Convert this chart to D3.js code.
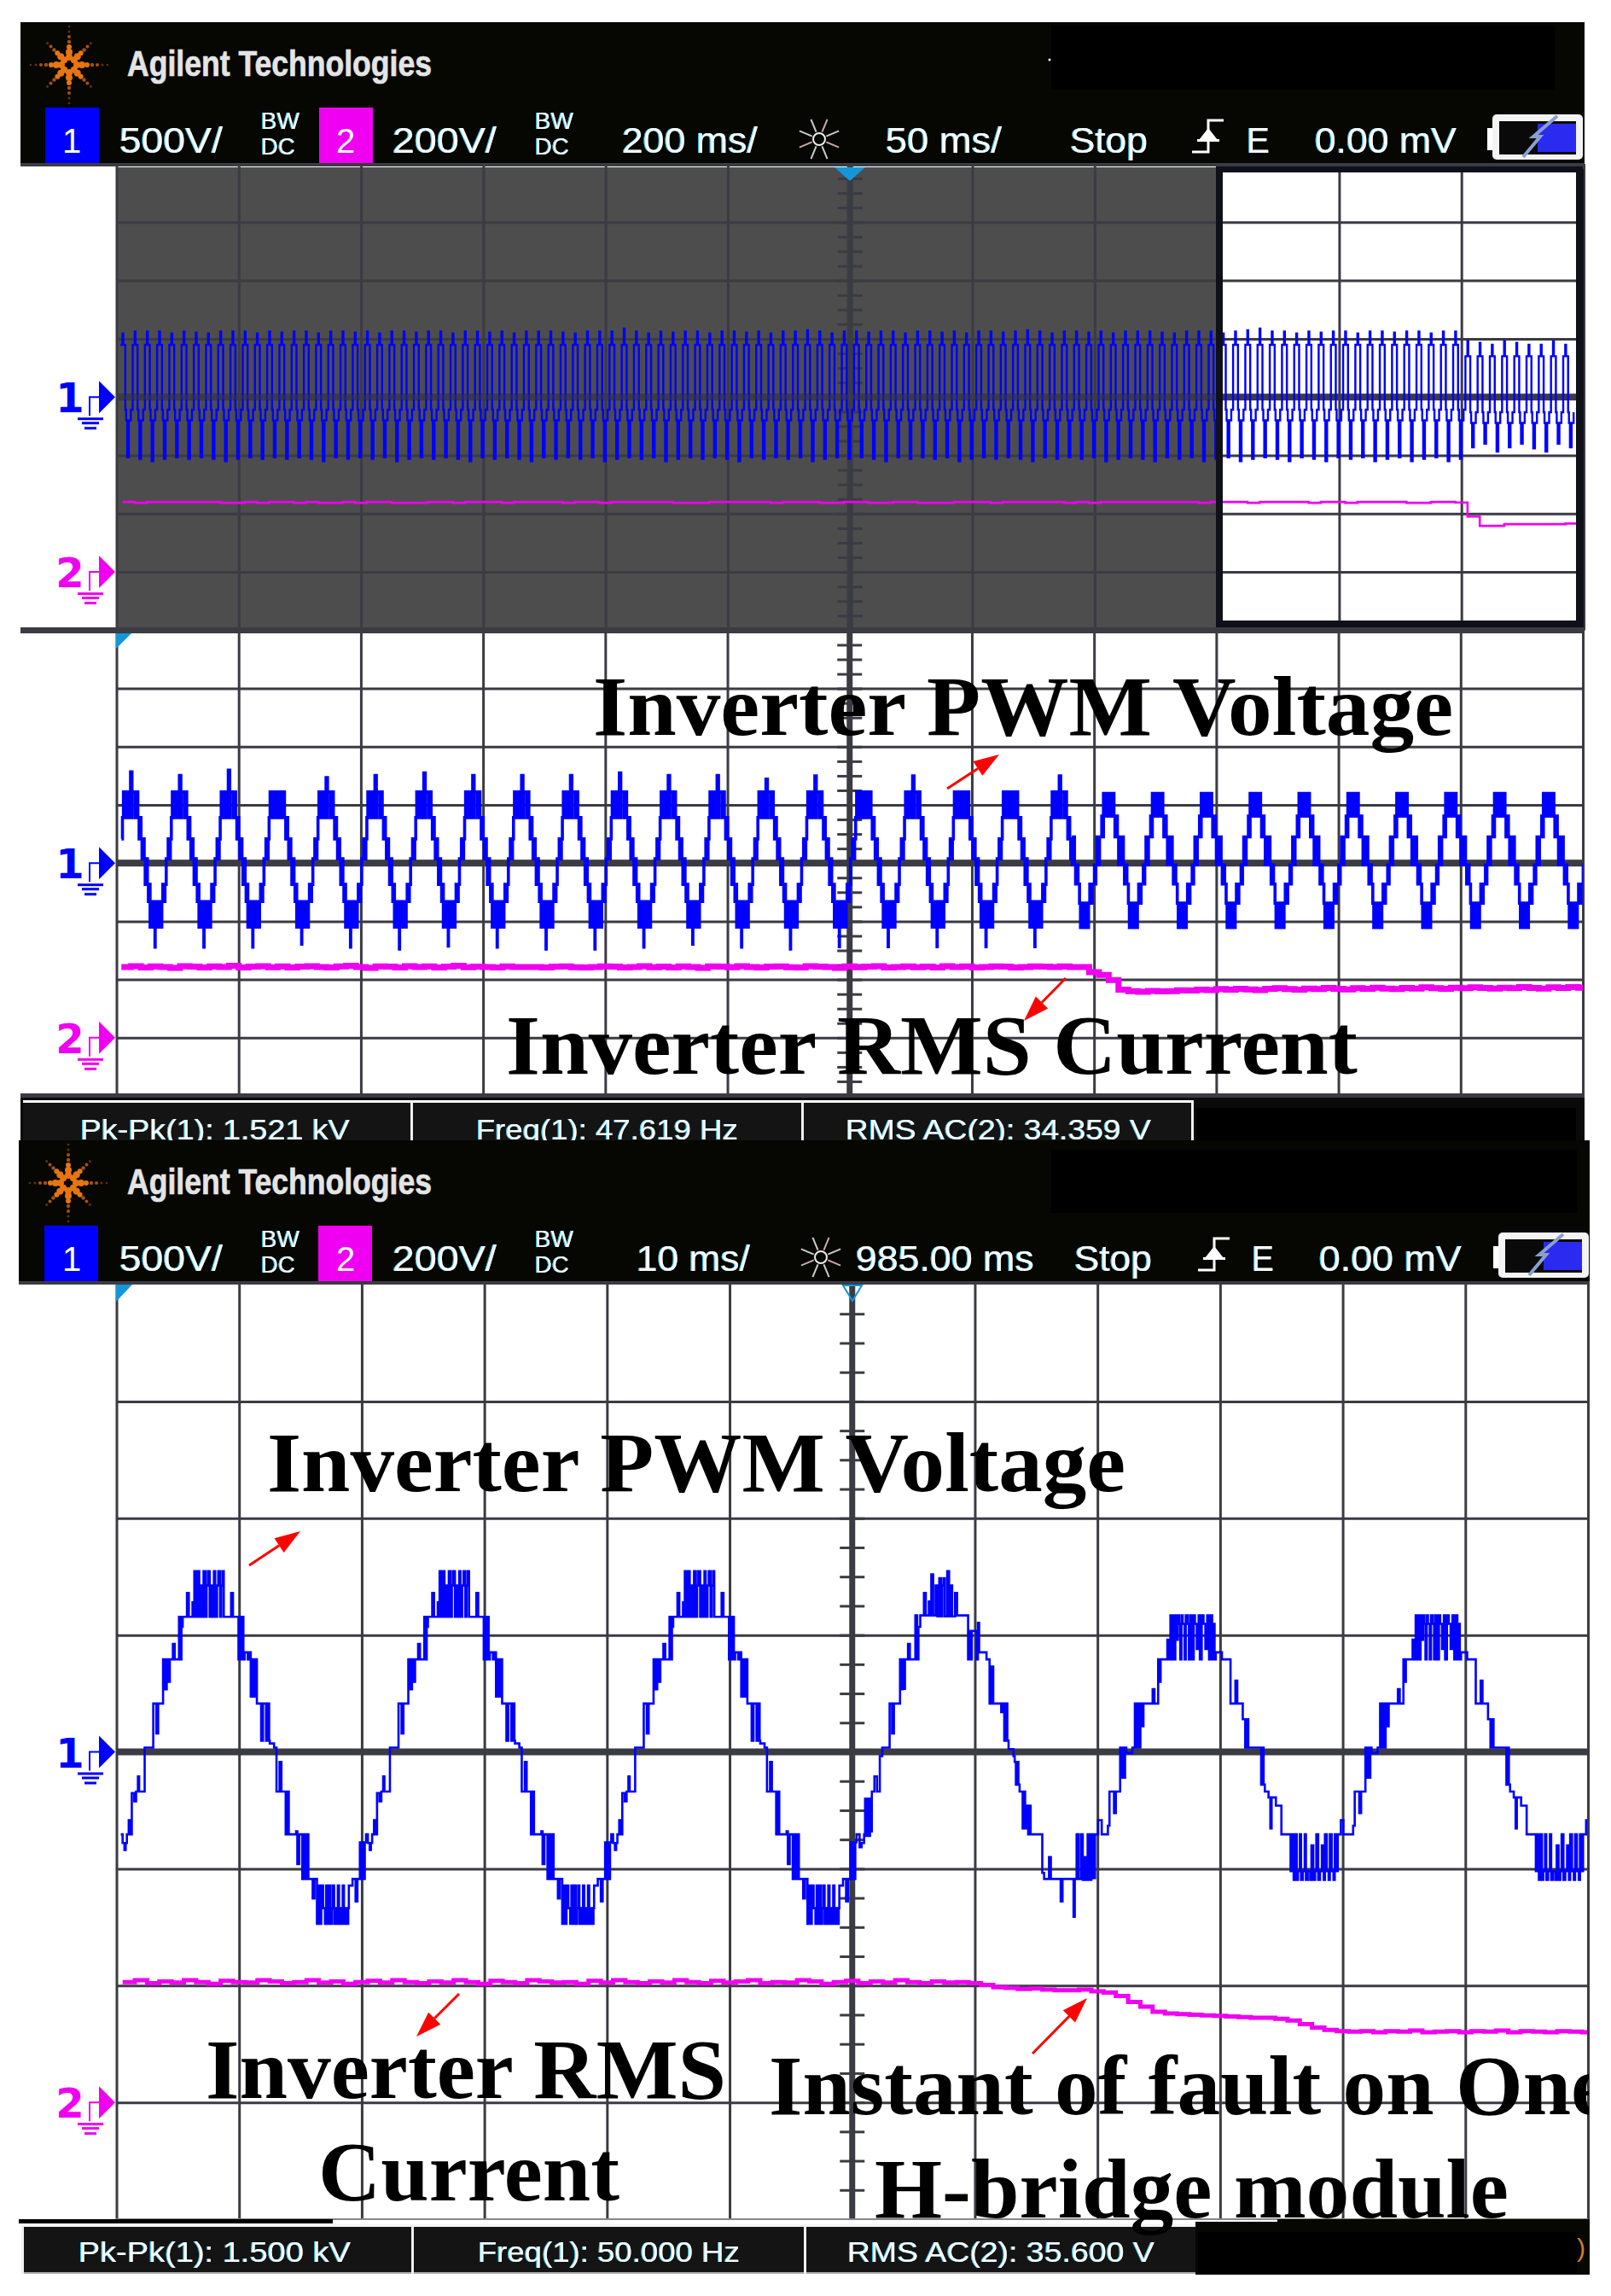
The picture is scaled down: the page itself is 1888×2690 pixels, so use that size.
<!DOCTYPE html>
<html>
<head>
<meta charset="utf-8">
<style>
  html, body { margin: 0; padding: 0; background: #fff; }
  svg { display: block; }
  .osd { font-family: "Liberation Sans", Arial, sans-serif; fill: #f6fbff; filter: drop-shadow(-0.7px 0 0 #18c0ff) drop-shadow(0.7px 0 0 #c07020); }
  .note { font-family: "Liberation Serif", "Times New Roman", serif; font-weight: bold; fill: #000; }
</style>
<script src="https://cdn.jsdelivr.net/npm/d3@7"></script>
</head>
<body>
<div id="chart"></div>
<script>
// ---------- values (ms, volts) ----------

// overview trace: spike height of each 20 ms cycle, ch1
var peakA = [
  546,562,562,562,546,562,553,546,562,562,
  562,546,562,553,562,562,546,562,562,553,
  562,546,562,562,553,562,562,546,562,562,
  553,562,546,562,562,562,553,546,562,562,
  562,588,562,546,562,553,562,562,546,562,
  562,553,562,546,562,562,572,562,546,562,
  562,553,562,562,546,562,562,553,562,546,
  562,562,553,562,572,562,546,562,562,553,
  562,546,562,562,562,553,546,562,562,562,
  546,562,572,588,562,562,546,562,553,562,
  562,546,562,562,553,562,562,546,562,562,
  480,464,448,480,464,448,448,480,448
];
var troughA = [
  -516,-530,-549,-530,-516,-530,-516,-530,-549,-530,
  -516,-530,-516,-530,-516,-530,-549,-516,-530,-516,
  -530,-516,-549,-530,-516,-530,-516,-530,-549,-516,
  -530,-516,-530,-549,-516,-530,-516,-530,-516,-549,
  -530,-516,-530,-516,-549,-530,-516,-530,-516,-530,
  -549,-516,-530,-516,-530,-516,-549,-530,-516,-530,
  -516,-530,-549,-516,-530,-516,-530,-516,-549,-530,
  -516,-530,-516,-530,-549,-516,-530,-516,-530,-516,
  -549,-530,-516,-530,-549,-516,-530,-516,-549,-530,
  -516,-549,-530,-516,-530,-549,-516,-530,-549,-516,
  -530,-516,-549,-530,-516,-549,-530,-516,-549,-530,
  -430,-400,-467,-430,-400,-440,-467,-400,-430
];
var cycleAHealthy = [[0,448],[4.7,448],[8,-108],[9.4,-200],[13.8,-200],[17,-108]];
var cycleAFaulted = [[0,350],[4.7,350],[8,-130],[9.4,-222],[13.8,-222],[17,-130]];
var rmsA = [
  240,237,240,240,240,240,240,240,237,237,240,237,240,240,237,240,237,237,240,237,
  240,240,237,237,237,240,240,237,240,240,240,237,240,240,240,240,237,240,240,237,
  240,240,240,240,240,237,237,237,240,240,240,240,240,237,240,240,240,237,237,240,
  240,237,237,240,240,237,237,237,240,240,240,237,240,240,240,240,240,237,240,237,
  240,240,240,240,240,240,240,240,237,240,240,240,237,240,240,240,240,237,240,240,
  237,240,240,240,240,237,237,240,240,238,190,158,158,164,164,164,164,164,166,166
];

// 50 ms/div trace: spike heights per cycle (0 = no spike above the chopped block)
var peakB = [784,753,799,0,735,753,775,753,753,753,775,753,753,722,748,0,748,0,0,748,0,0,0,0,0,0,0,0,0,0,0];
var troughB = [-722,-722,-722,-697,-722,-738,-713,-722,-738,-738,-722,-697,-722,-738,-718,-718,-718,-718,-718,0,0,0,0,0,0,0,0,0,0,0,0];
var cycleBHealthy = [
  [0,37],[0.4,208],[0.9,37],[1.3,208],[1.7,391],[2.1,611],[2.8,391],[3.5,611],[4.2,391],[4.9,611],[5.6,391],[6.3,611],[7,391],[7.6,611],
  [8,391],[8.5,208],[8.9,391],[9.3,208],[9.7,37],[10.2,208],[10.6,37],[11,-183],[11.5,37],[11.9,-183],[12.3,-330],[12.7,-183],
  [13,-550],[13.7,-330],[14.4,-550],[15.1,-330],[15.8,-550],[16.5,-330],[17.2,-550],[17.8,-330],[18.2,-183],[18.7,-330],[19.1,-183],[19.6,37]
];
var cycleBFaulted = [
  [0,-15],[0.5,225],[1,-15],[1.5,225],[2,225],[2.4,404],[2.8,225],[3.1,599],[3.6,404],[4.1,599],[4.6,404],[5.1,599],[5.6,404],[6.1,599],[6.6,404],[7.1,599],
  [7.4,404],[7.8,225],[8.2,404],[8.8,225],[9.3,-15],[9.8,225],[10.3,-15],[10.8,225],[11.25,-15],[11.7,-180],[12.2,-15],[12.7,-180],
  [13.3,-344],[13.7,-554],[14.4,-344],[15.1,-554],[15.8,-344],[16.5,-554],[17,-344],[17.5,-180],[18,-344],[18.5,-180],[19.4,-15],[19.8,-180]
];
var rmsB = [
  243,246,241,245,243,240,246,244,241,245,243,247,241,244,246,242,245,241,244,246,
  243,241,245,247,243,240,245,244,241,246,243,245,241,244,247,242,244,243,241,245,
  243,243,243,241,244,245,242,241,243,245,244,241,243,246,242,244,241,245,243,240,
  245,244,242,246,243,241,244,245,242,241,246,244,243,240,245,242,244,246,241,243,
  245,242,244,241,246,243,245,241,243,245,244,241,243,245,244,243,245,243,243,225,
  216,198,165,160,158,161,159,160,163,162,165,164,167,165,168,166,164,168,170,167,
  165,169,167,171,168,166,170,168,172,169,167,171,169,173,170,168,172,170,173,171,
  169,172,170,174,171,169,173,171,174,172,171
];

// 10 ms/div trace: step points of one 20 ms cycle, before, during and after the fault
var cycleCHealthy = [
  [0,-353],[0.15,-390],[0.3,-420],[0.4,-390],[0.5,-353],[0.65,-292],[0.8,-353],[0.9,-176],[1.1,-212],[1.25,-170],[1.4,-105],[1.5,-170],[1.8,-170],[1.95,18],
  [2.65,207],[2.9,79],[3.05,207],[3.45,396],[3.6,268],[3.75,396],[3.9,300],[4,396],[4.25,462],[4.4,396],[4.75,578],[4.9,396],[4.95,535],[5.05,578],[5.4,680],[5.55,578],[5.85,640],[5.95,578],
  [6,773],[6.15,578],[6.25,773],[6.4,578],[6.5,712],[6.65,578],[6.75,773],[6.9,578],[7,712],[7.1,773],[7.25,578],[7.35,712],[7.5,578],[7.6,773],[7.7,578],[7.85,712],[7.95,773],[8.1,578],[8.2,712],[8.3,773],[8.4,578],
  [9,680],[9.15,578],[9.6,396],[9.7,578],[9.8,396],[9.9,578],[10,396],[10.1,426],[10.35,396],[10.5,426],[10.6,237],[10.75,396],[10.85,237],[11,396],[11.1,207],[11.45,48],[11.6,207],[11.85,48],[12,207],[12.1,48],[12.15,36],[12.5,18],
  [12.7,-170],[12.95,-43],[13.1,-170],[13.45,-353],[13.55,-170],[13.7,-353],[14.3,-340],[14.4,-480],[14.55,-353],[14.8,-544],[14.95,-353],[15.05,-544],[15.15,-353],[15.3,-544],[15.65,-627],[15.8,-544],
  [16,-736],[16.1,-572],[16.25,-736],[16.35,-572],[16.5,-669],[16.65,-736],[16.75,-572],[16.85,-736],[17,-572],[17.1,-736],[17.2,-669],[17.3,-572],[17.4,-736],[17.5,-669],[17.6,-736],[17.7,-572],[17.8,-736],[17.9,-669],[18,-736],[18.1,-572],[18.2,-736],[18.3,-669],[18.4,-736],[18.55,-669],[18.6,-572],
  [18.9,-544],[19.15,-640],[19.3,-544],[19.5,-387],[19.6,-544],[19.7,-387],[19.8,-544],[19.9,-387]
];
var cycleCTransition = [
  [0,-353],[0.25,-408],[0.42,-390],[0.62,-353],[0.7,-200],[0.8,-360],[0.9,-200],[1,-360],[1.1,-200],[1.2,-340],[1.25,-170],[1.46,-105],[1.67,-170],[1.9,-18],[2.1,18],
  [2.7,207],[2.9,79],[3.05,207],[3.55,396],[3.65,268],[3.75,396],[3.85,270],[3.95,396],[4.2,462],[4.35,396],[4.8,584],[4.95,396],[5.05,535],[5.2,584],[5.5,680],[5.65,584],[5.9,644],[6.05,584],[6.1,760],[6.25,584],
  [6.45,712],[6.6,580],[6.75,743],[6.9,580],[7,712],[7.1,743],[7.2,580],[7.4,773],[7.55,580],[7.65,712],[7.8,580],[8.04,680],[8.2,584],
  [9.1,396],[9.2,518],[9.3,396],[9.4,518],[9.8,396],[9.9,552],[10,426],[10.6,396],[10.85,207],[11,365],[11.15,207],[11.8,170],[11.9,207],[12.05,48],[12.2,207],[12.3,48],[12.4,12],[12.8,-18],
  [12.9,-43],[13,-140],[13.1,-43],[13.2,-140],[13.3,-170],[13.55,-328],[13.65,-170],[13.75,-328],[13.85,-230],[14,-353],[14.1,-230],[14.2,-353],
  [15.15,-518],[15.3,-544],[15.7,-450],[15.85,-544],[16.65,-640],[16.8,-544],[17.7,-706],[17.8,-544],[17.95,-353],[18.1,-544],[18.3,-353],[18.45,-548],[18.6,-450],[18.75,-548],[18.85,-353],[19,-548],[19.15,-353],[19.3,-540],[19.45,-353],[19.7,-292]
];
var cycleCFaulted = [
  [0,-353],[0.5,-316],[0.63,-170],[1,-262],[1.15,-170],[1.5,18],[1.6,-110],[1.7,18],[1.8,-110],[1.9,18],[2,-5],[2.5,18],[2.7,207],[2.8,18],[2.9,207],[3,18],[3.15,207],[3.3,110],[3.4,207],
  [4.15,268],[4.3,207],[4.6,396],[4.7,300],[4.8,396],[5.35,480],[5.45,396],
  [5.6,584],[5.7,396],[5.8,584],[5.9,396],[6,584],[6.1,480],[6.2,584],[6.3,548],[6.4,396],[6.5,584],[6.6,548],[6.75,396],[6.85,584],[7,548],[7.1,396],[7.2,584],[7.35,396],[7.5,584],[7.6,548],[7.75,440],[7.9,584],[8,396],[8.15,584],[8.3,548],[8.45,440],[8.6,584],[8.75,396],[8.85,584],[9,396],[9.1,548],[9.2,396],
  [9.3,426],[9.8,396],[10.5,207],[10.9,305],[11.05,207],[11.5,140],[11.7,18],[11.8,140],[11.95,18],[13,-140],[13.1,18],[13.2,-140],[13.3,-170],[13.6,-195],[13.75,-328],[13.85,-195],[14.2,-230],[14.65,-353],
  [15.4,-510],[15.5,-353],[15.65,-548],[15.8,-353],[15.9,-548],[16,-510],[16.15,-353],[16.25,-548],[16.4,-510],[16.55,-353],[16.65,-548],[16.8,-510],[17,-548],[17.1,-400],[17.25,-548],[17.4,-510],[17.5,-353],[17.65,-548],[17.8,-510],[17.95,-400],[18.1,-548],[18.2,-353],[18.35,-510],[18.5,-548],[18.6,-353],[18.75,-510],[18.9,-548],[19,-353],[19.1,-510],[19.25,-353],[19.5,-292],[19.7,-353]
];
var cycleOrderC = ["h","h","h","t","f","f"];
var rmsC = [
  206,209,204,207,205,209,206,203,208,206,205,209,207,204,206,209,205,207,203,206,
  208,205,209,206,204,207,205,209,206,203,208,206,204,209,207,205,206,203,208,205,
  209,206,204,207,205,209,206,204,208,205,207,209,204,206,205,209,207,203,206,208,
  204,207,205,209,206,204,207,205,206,204,201,197,196,194,195,193,192,192,193,190,
  188,182,172,164,155,152,151,150,149,148,147,146,145,145,143,140,134,128,124,122,
  121,122,120,122,121,123,120,121,122,120,122,121,123,120,122,121,120,122,121,120,121
];

var measures = [
  ["Pk-Pk(1): 1.521 kV", 94, 410], ["Freq(1): 47.619 Hz", 558, 865], ["RMS AC(2): 34.359 V", 991, 1349]
];
var measuresC = [
  ["Pk-Pk(1): 1.500 kV", 92, 411], ["Freq(1): 50.000 Hz", 560, 867], ["RMS AC(2): 35.600 V", 993, 1353]
];
var headerTextA = [
  ["500V/", 140, 261, 43], ["200V/", 460, 582, 43], ["200 ms/", 729, 888, 43], ["50 ms/", 1038, 1174, 43],
  ["Stop", 1254, 1345, 43], ["E", 1461, 1488, 43], ["0.00 mV", 1541, 1707, 43]
];
var headerTextC = [
  ["500V/", 140, 261, 43], ["200V/", 460, 582, 43], ["10 ms/", 746, 879, 43], ["985.00 ms", 1003, 1212, 43],
  ["Stop", 1259, 1350, 43], ["E", 1467, 1493, 43], ["0.00 mV", 1546, 1713, 43]
];

// [text, left, right, baseline]
var notes = [
  ["Inverter PWM Voltage", 695, 1703, 861], ["Inverter RMS Current", 593, 1591, 1258],
  ["Inverter PWM Voltage", 313, 1319, 1747], ["Inverter RMS", 241, 851, 2458], ["Current", 373, 726, 2578],
  ["H-bridge module", 1025, 1768, 2598]
];
// [x1, y1, x2, y2]
var arrows = [
  [1110,924,1171,884], [1249,1146,1200,1196], [292,1834,352,1794], [538,2336,488,2386], [1210,2406,1274,2341]
];

// ---------- set up ----------
var W = 1888, H = 2690;
var GRID = "#3b3b43", BLUE = "#0000ff", MAG = "#f000f0", BG = "#060602";

var svg = d3.select("#chart").append("svg").attr("width", W).attr("height", H);
svg.append("rect").attr("width", W).attr("height", H).attr("fill", "#fff");
var defs = svg.append("defs");

function box(g, x0, y0, x1, y1, fill) {
  return g.append("rect").attr("x", x0).attr("y", y0).attr("width", x1 - x0).attr("height", y1 - y0).attr("fill", fill);
}

var panels = {
  A: { xd: [-1200, 1200], xr: [136.5, 1856], yr: [738.4, 192], divT: 200, id: "clipA" },
  B: { xd: [-300, 300], xr: [136.5, 1855], yr: [1284, 738.4], divT: 50, id: "clipB" },
  C: { xd: [925, 1045], xr: [136.5, 1861], yr: [2600, 1505], divT: 10, id: "clipC" }
};

Object.keys(panels).forEach(function (k) {
  var p = panels[k];
  p.x = d3.scaleLinear().domain(p.xd).range(p.xr);
  p.div = d3.scaleLinear().domain([-4, 4]).range(p.yr);
  p.v1 = d3.scaleLinear().domain([-2000, 2000]).range(p.yr);   // 500 V/div, zero on centre line
  p.v2 = d3.scaleLinear().domain([-200, 1400]).range(p.yr);    // 200 V/div, zero 3 div below centre
  p.step = d3.line().x(function (d) { return p.x(d[0]); }).curve(d3.curveStepAfter);
  defs.append("clipPath").attr("id", p.id).append("rect")
    .attr("x", p.xr[0]).attr("y", p.yr[1]).attr("width", p.xr[1] - p.xr[0]).attr("height", p.yr[0] - p.yr[1]);
});

// graticule through d3 axes: no labels, ticks stretched into grid lines
function grid(g, p) {
  var h = p.yr[0] - p.yr[1], w = p.xr[1] - p.xr[0];
  var xticks = d3.range(-6, 7).map(function (i) { return (p.xd[0] + p.xd[1]) / 2 + i * p.divT; });
  var gx = g.append("g").attr("transform", "translate(0," + p.yr[1] + ")")
    .call(d3.axisBottom(p.x).tickValues(xticks).tickSize(h).tickFormat(""));
  var gy = g.append("g").attr("transform", "translate(" + p.xr[0] + ",0)")
    .call(d3.axisRight(p.div).tickValues([-3, -2, -1, 1, 2, 3]).tickSize(w).tickFormat(""));
  [gx, gy].forEach(function (a) {
    a.select(".domain").remove();
    a.selectAll("line").attr("stroke", GRID).attr("stroke-width", 3);
  });
}

// centre cross with quarter-division ticks on the vertical
function cross(g, p, thick) {
  var cx = p.x((p.xd[0] + p.xd[1]) / 2), cy = p.div(0);
  box(g, p.xr[0], cy - thick / 2, p.xr[1], cy + thick / 2, GRID);
  box(g, cx - 3.5, p.yr[1], cx + 3.5, p.yr[0], GRID);
  var a = g.append("g").attr("transform", "translate(" + (cx + 14.5) + ",0)")
    .call(d3.axisLeft(p.div).tickValues(d3.range(-3.75, 4, 0.25)).tickSize(29).tickFormat(""));
  a.select(".domain").remove();
  a.selectAll("line").attr("stroke", GRID).attr("stroke-width", 3);
}

// puts spikes into a cycle: after each one the trace returns to the level it left
function withSpikes(cycle, spikes) {
  var pts = cycle.slice();
  spikes.forEach(function (s) {
    if (!s[1]) return;
    var before = cycle.filter(function (c) { return c[0] <= s[0]; }).pop();
    pts.push([s[0], s[1]], [s[0] + s[2], before[1]]);
  });
  return pts.sort(function (a, b) { return a[0] - b[0]; });
}

function shift(cycle, t0) {
  return cycle.map(function (c) { return [t0 + c[0], c[1]]; });
}

function trace(g, p, pts, yScale, color, width) {
  g.append("path").datum(pts).attr("fill", "none").attr("stroke", color).attr("stroke-width", width)
    .attr("clip-path", "url(#" + p.id + ")")
    .attr("stroke-linejoin", "miter")
    .attr("d", p.step.y(function (d) { return yScale(d[1]); }));
}

// channel marker: numeral, arrow, ground symbol
function marker(g, label, color, gy) {
  g.append("text").text(label).attr("x", 82).attr("y", gy + 18).attr("text-anchor", "middle")
    .attr("font-family", "DejaVu Sans, sans-serif").attr("font-weight", "bold").attr("font-size", 48)
    .attr("fill", color);
  g.append("path").attr("fill", color).attr("d", "M116," + (gy - 19) + "L135," + gy + "L116," + (gy + 19) + "Z");
  g.append("path").attr("fill", "none").attr("stroke", color).attr("stroke-width", 2)
    .attr("d", "M116," + gy + "H105V" + (gy + 22));
  [[91, 121, 24], [96, 116, 29], [99, 113, 35]].forEach(function (b) {
    box(g, b[0], gy + b[2], b[1], gy + b[2] + 3, color);
  });
}

function osd(g, t, x0, x1, base, size) {
  g.append("text").attr("class", "osd").text(t).attr("x", x0).attr("y", base)
    .attr("font-size", size).attr("textLength", x1 - x0).attr("lengthAdjust", "spacingAndGlyphs");
}

// scope header bar
function header(x0, x1, y0, dx, labels, xBat) {
  var g = svg.append("g");
  var yBox = y0 + 100, yEnd = y0 + 165;
  box(g, x0, y0, x1, yEnd, BG);
  box(g, x0, yEnd, x1, yEnd + 4, GRID);
  box(g, 1232, y0 + 4 + (y0 > 100 ? 7 : 0), y0 > 100 ? 1848 : 1822, y0 + 79 + (y0 > 100 ? 6 : 0), "#000");

  // logo: eight dotted spokes
  var lx = 81 - (y0 > 100 ? 1 : 0), ly = y0 + 50, radii = [9, 15, 21, 27, 33, 39, 45], sizes = [4, 4, 3, 2.2, 2, 1.6, 1.3];
  d3.range(8).forEach(function (i) {
    var a = i * Math.PI / 4;
    radii.forEach(function (r, j) {
      var rr = (i % 2 ? r * 0.92 : r);
      if (i % 2 && j == 6) return;
      g.append("circle").attr("cx", lx + rr * Math.cos(a)).attr("cy", ly + rr * Math.sin(a)).attr("r", sizes[j])
        .attr("fill", j < 3 ? "#e87510" : j < 5 ? "#a85208" : "#603004");
    });
  });
  g.append("text").text("Agilent Technologies").attr("x", 149).attr("y", y0 + 63)
    .attr("font-family", "Liberation Sans Narrow, Liberation Sans, sans-serif").attr("font-weight", "bold")
    .attr("font-size", 43).attr("fill", "#e4e4e4").attr("stroke", "#e4e4e4").attr("stroke-width", 0.7)
    .attr("textLength", 357).attr("lengthAdjust", "spacingAndGlyphs");

  // channel tags
  [[53, BLUE, "1"], [374, MAG, "2"]].forEach(function (c) {
    box(g, c[0] - (y0 > 100 ? 1 : 0), yBox, c[0] + 63 - (y0 > 100 ? 1 : 0), yEnd, c[1]);
    g.append("text").text(c[2]).attr("x", c[0] + 31).attr("y", y0 + 153).attr("text-anchor", "middle")
      .attr("font-family", "Liberation Sans, sans-serif").attr("font-size", 40).attr("fill", "#fff");
  });
  [306, 627].forEach(function (x) {
    osd(g, "BW", x, x + 45, y0 + 125, 27);
    osd(g, "DC", x, x + 40, y0 + 155, 27);
  });
  labels.forEach(function (l) { osd(g, l[0], l[1], l[2], y0 + 153, l[3]); });

  // acquisition sun
  var sx = y0 > 100 ? 962 : 960, sy = y0 + 137;
  d3.range(8).forEach(function (i) {
    var a = i * Math.PI / 4 + Math.PI / 8;
    g.append("line").attr("x1", sx + 9 * Math.cos(a)).attr("y1", sy + 9 * Math.sin(a))
      .attr("x2", sx + 25 * Math.cos(a)).attr("y2", sy + 25 * Math.sin(a))
      .attr("stroke", i % 3 == 0 ? "#caa" : "#ccc").attr("stroke-width", 2);
  });
  g.append("circle").attr("cx", sx).attr("cy", sy).attr("r", 7).attr("fill", "none").attr("stroke", "#eee").attr("stroke-width", 2);

  // trigger slope
  var tx = xBat - 352;
  g.append("path").attr("fill", "none").attr("stroke", "#fff").attr("stroke-width", 3)
    .attr("d", "M" + tx + "," + (y0 + 152) + "h19V" + (y0 + 115) + "h18");
  g.append("path").attr("fill", "#fff").attr("d", "M" + (tx + 19) + "," + (y0 + 124) + "l11,14h-22z");
  box(g, tx + 6, y0 + 137, tx + 32, y0 + 140, "#fff");

  // battery-style mode icon
  box(g, xBat - 6, y0 + 124, xBat, y0 + 150, "#fff");
  g.append("rect").attr("x", xBat).attr("y", y0 + 108).attr("width", 106).attr("height", 53).attr("rx", 5).attr("fill", "#f4f4f4");
  box(g, xBat + 8, y0 + 116, xBat + 98, y0 + 155, "#0a0a0a");
  box(g, xBat + 53, y0 + 119, xBat + 98, y0 + 152, "#2a2af0");
  g.append("path").attr("fill", "none").attr("stroke", "#8aa0d0").attr("stroke-width", 4)
    .attr("d", "M" + (xBat + 36) + "," + (y0 + 158) + "L" + (xBat + 56) + "," + (y0 + 134) + "L" + (xBat + 48) + "," + (y0 + 134) + "L" + (xBat + 76) + "," + (y0 + 110));
  return g;
}

// ---------- panel A: 200 ms/div overview with zoom window ----------
var pA = panels.A, gA = svg.append("g");
box(gA, 136.5, 196, 1425, 738, "#4d4d4d");
box(gA, 1429, 198, 1851, 731, "#fff");
grid(gA, pA);
cross(gA, pA, 8);

var ptsA = [];
peakA.forEach(function (pk, k) {
  var base = k < 110 ? cycleAHealthy : cycleAFaulted;
  ptsA = ptsA.concat(shift(withSpikes(base, [[3.3, pk, 1.4], [11, troughA[k], 3.4]]), -1193.5 + 20 * k));
});
trace(gA, pA, ptsA, pA.v1, BLUE, 2.4);
trace(gA, pA, rmsA.map(function (v, i) { return [-1190 + 20 * i, v]; }), pA.v2, MAG, 2.6);
box(gA, 136.5, pA.div(0) - 3, 1425, pA.div(0) + 3, GRID).attr("opacity", 0.45);
gA.append("rect").attr("x", 1429).attr("y", 198).attr("width", 422).attr("height", 533)
  .attr("fill", "none").attr("stroke", "#10101a").attr("stroke-width", 8);
box(gA, 1851, 198, 1856, 735, "#10101a");
marker(gA, "1", BLUE, pA.div(0));
marker(gA, "2", MAG, pA.v2(0));

// ---------- panel B: 50 ms/div ----------
var pB = panels.B, gB = svg.append("g");
grid(gB, pB);
cross(gB, pB, 8);
var ptsB = [];
peakB.forEach(function (pk, k) {
  var base;
  if (k < 19) base = cycleBHealthy;
  else if (k == 19) base = cycleBHealthy.filter(function (c) { return c[0] < 10; })
    .concat(cycleBFaulted.filter(function (c) { return c[0] >= 10; }));
  else base = cycleBFaulted;
  ptsB = ptsB.concat(shift(withSpikes(base, [[5, pk, 0.7], [15, troughB[k], 0.7]]), -299.25 + 20 * k));
});
trace(gB, pB, ptsB.filter(function (d) { return d[0] >= -298; }), pB.v1, BLUE, 3.6);
trace(gB, pB, rmsB.map(function (v, i) { return [-298 + 4 * i, v]; }), pB.v2, MAG, 7);
marker(gB, "1", BLUE, pB.div(0));
marker(gB, "2", MAG, pB.v2(0));

// ---------- panel C: 10 ms/div ----------
var pC = panels.C, gC = svg.append("g");
grid(gC, pC);
cross(gC, pC, 8);
var ptsC = [], cycleByName = { h: cycleCHealthy, t: cycleCTransition, f: cycleCFaulted };
cycleOrderC.forEach(function (name, k) {
  ptsC = ptsC.concat(shift(cycleByName[name], 925.35 + 20 * k));
});
trace(gC, pC, ptsC, pC.v1, BLUE, 2.6);
trace(gC, pC, rmsC.map(function (v, i) { return [925.5 + i, v]; }), pC.v2, MAG, 5);
box(gC, pC.xr[1] - 1, 1505, pC.xr[1] + 2, 2600, GRID);
marker(gC, "1", BLUE, pC.div(0));
marker(gC, "2", MAG, pC.v2(0));

// trigger markers
svg.append("path").attr("fill", "#1496d8").attr("d", "M978,196H1014L996,212Z");
svg.append("path").attr("fill", "#1496d8").attr("d", "M136,740H156L136,760Z");
svg.append("path").attr("fill", "#1496d8").attr("d", "M136,1505H155L136,1525Z");
svg.append("path").attr("fill", "none").attr("stroke", "#1496d8").attr("stroke-width", 2).attr("d", "M988,1506H1010L999,1524Z");

// ---------- measurement rows ----------
var gM = svg.append("g");
box(gM, 24, 735, 1857, 742, GRID);
box(gM, 24, 1281, 1857, 1286, GRID);
box(gM, 24, 1286, 1857, 1336, "#0a0a0a");
box(gM, 27, 1292, 1397, 1336, "#141414");
box(gM, 27, 1289, 1397, 1292, "#fff");
[481, 939, 1396].forEach(function (x) { box(gM, x, 1289, x + 3, 1336, "#f0f0f0"); });
box(gM, 1402, 1298, 1847, 1336, "#000");
measures.forEach(function (m) { osd(gM, m[0], m[1], m[2], 1335, 33); });

box(gM, 136, 2599, 1861, 2601, "#888");
box(gM, 22, 2600, 390, 2605, "#000");
box(gM, 25, 2607, 1401, 2663, "#141414");
box(gM, 25, 2606, 1401, 2609, "#f4f4f4");
box(gM, 25, 2662, 1401, 2664, "#aaa");
[25, 482, 942].forEach(function (x) { box(gM, x, 2606, x + 3, 2664, "#f0f0f0"); });
box(gM, 1497, 2600, 1863, 2607, BG);
box(gM, 1401, 2603, 1863, 2665, BG);
box(gM, 1404, 2615, 1848, 2665, "#000");
measuresC.forEach(function (m) { osd(gM, m[0], m[1], m[2], 2650, 33); });
gM.append("text").text(")").attr("x", 1848).attr("y", 2644).attr("font-family", "Liberation Sans, sans-serif")
  .attr("font-size", 30).attr("fill", "#d08030");

// ---------- header bars (second one sits over the first row of measurements) ----------
header(24, 1857, 26, 0, headerTextA, 1749);
svg.append("circle").attr("cx", 1230).attr("cy", 70).attr("r", 1.5).attr("fill", "#fff");
header(22, 1863, 1336, 0, headerTextC, 1756);

// ---------- black annotations and red arrows ----------
var gN = svg.append("g");
defs.append("clipPath").attr("id", "clipNote").append("rect").attr("x", 0).attr("y", 2350).attr("width", 1862).attr("height", 300);
notes.forEach(function (n) {
  gN.append("text").attr("class", "note").text(n[0]).attr("x", n[1]).attr("y", n[3]).attr("font-size", 100)
    .attr("textLength", n[2] - n[1]).attr("lengthAdjust", "spacingAndGlyphs");
});
gN.append("text").attr("class", "note").text("Instant of fault on One").attr("x", 901).attr("y", 2477).attr("font-size", 100)
  .attr("textLength", 985).attr("lengthAdjust", "spacingAndGlyphs").attr("clip-path", "url(#clipNote)");

arrows.forEach(function (a) {
  var ang = Math.atan2(a[3] - a[1], a[2] - a[0]), len = 30, hw = 10;
  var bx = a[2] - len * Math.cos(ang), by = a[3] - len * Math.sin(ang);
  gN.append("line").attr("x1", a[0]).attr("y1", a[1]).attr("x2", bx).attr("y2", by).attr("stroke", "#ff0000").attr("stroke-width", 3);
  gN.append("path").attr("fill", "#ff0000").attr("d", "M" + a[2] + "," + a[3] +
    "L" + (bx - hw * Math.sin(ang)) + "," + (by + hw * Math.cos(ang)) +
    "L" + (bx + hw * Math.sin(ang)) + "," + (by - hw * Math.cos(ang)) + "Z");
});
</script>
</body>
</html>
